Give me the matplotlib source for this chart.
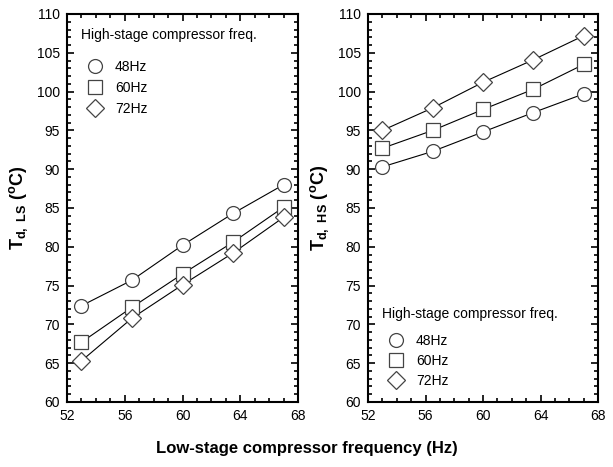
import matplotlib
matplotlib.use("Agg")
import matplotlib.pyplot as plt
from matplotlib.ticker import MultipleLocator
from matplotlib.lines import Line2D

plt.rcParams['font.family'] = ['Liberation Sans', 'DejaVu Sans']
plt.rcParams['mathtext.fontset'] = 'custom'
plt.rcParams['mathtext.rm'] = 'Liberation Sans'
plt.rcParams['mathtext.bf'] = 'Liberation Sans:bold'

freq_ls = [53, 56.5, 60, 63.5, 67]
hs_labels = ['48Hz', '60Hz', '72Hz']
markers = ['o', 's', 'D']

td_ls_48 = [72.4, 75.7, 80.2, 84.3, 88.0]
td_ls_60 = [67.7, 72.2, 76.5, 80.6, 85.1]
td_ls_72 = [65.3, 70.8, 75.1, 79.2, 83.8]

td_hs_48 = [90.3, 92.3, 94.8, 97.3, 99.7]
td_hs_60 = [92.7, 95.0, 97.7, 100.3, 103.5]
td_hs_72 = [95.0, 97.9, 101.2, 104.1, 107.2]

legend_title = 'High-stage compressor freq.'

fig = plt.figure(figsize=(6.13, 4.67), dpi=100)
W, H = 613, 467
ax1 = fig.add_axes([67 / W, 1 - 402 / H, 231 / W, 388 / H])
ax2 = fig.add_axes([368 / W, 1 - 402 / H, 230 / W, 388 / H])


def style(ax):
    ax.set_xlim(52, 68)
    ax.set_ylim(60, 110)
    ax.xaxis.set_major_locator(MultipleLocator(4))
    ax.xaxis.set_minor_locator(MultipleLocator(1))
    ax.yaxis.set_major_locator(MultipleLocator(5))
    ax.yaxis.set_minor_locator(MultipleLocator(1))
    ax.tick_params(which='both', direction='in', top=True, right=True, width=1.2)
    ax.tick_params(which='major', length=5, labelsize=10, pad=5)
    ax.tick_params(which='minor', length=3)
    for s in ax.spines.values():
        s.set_linewidth(1.5)


for ax, series in [(ax1, [td_ls_48, td_ls_60, td_ls_72]),
                   (ax2, [td_hs_48, td_hs_60, td_hs_72])]:
    handles = []
    for vals, m, lab in zip(series, markers, hs_labels):
        ms = 10 if m != 'D' else 9
        ax.plot(freq_ls, vals, color='black', lw=0.8, zorder=2)
        ax.plot(freq_ls, vals, ls='none', marker=m, ms=ms, mfc='white',
                mec='#444444', mew=0.9, zorder=3)
        handles.append(Line2D([], [], ls='none', marker=m, ms=ms, mfc='white',
                              mec='#444444', mew=0.9, label=lab))
    style(ax)
    if ax is ax1:
        loc = 'upper left'
        bbox = (0.0, 1.0)
        sep = 13
        lsp = 0.5
    else:
        loc = 'lower left'
        bbox = (0.0, 0.0)
        sep = 9
        lsp = 0.45
    leg = ax.legend(handles=handles, title=legend_title, loc=loc, bbox_to_anchor=bbox,
                    frameon=False, fontsize=10, title_fontsize=10,
                    handlelength=2.1, handletextpad=0.35, labelspacing=lsp,
                    borderpad=0.6, borderaxespad=0.4, alignment='left')
    leg._legend_box.sep = sep

ax1.set_ylabel(r'$\mathbf{T_{d,\ LS}}$ ($\mathbf{^{o}}$C)', fontsize=13, fontweight='bold',
               labelpad=5)
ax2.set_ylabel(r'$\mathbf{T_{d,\ HS}}$ ($\mathbf{^{o}}$C)', fontsize=13, fontweight='bold',
               labelpad=5)

fig.text(0.5, 1 - 448 / H, 'Low-stage compressor frequency (Hz)', ha='center', va='center',
         fontsize=12, fontweight='bold')

fig.savefig('out.png', dpi=100)
